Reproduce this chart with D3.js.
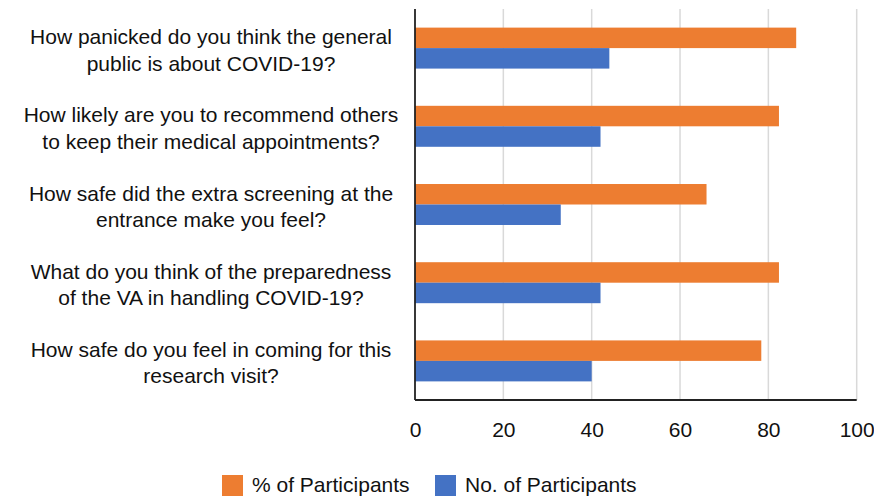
<!DOCTYPE html>
<html>
<head>
<meta charset="utf-8">
<script src="https://cdn.jsdelivr.net/npm/d3@7"></script>
<style>
  html, body { margin: 0; padding: 0; background: #fff; }
  svg { display: block; font-family: "Liberation Sans", Arial, Helvetica, sans-serif; }
</style>
</head>
<body>
<svg id="chart" width="874" height="496"></svg>
<script>
const categories = [
  ["How panicked do you think the general", "public is about COVID-19?"],
  ["How likely are you to recommend others", "to keep their medical appointments?"],
  ["How safe did the extra screening at the", "entrance make you feel?"],
  ["What do you think of the preparedness", "of the VA in handling COVID-19?"],
  ["How safe do you feel in coming for this", "research visit?"]
];
const seriesNames = ["% of Participants", "No. of Participants"];
const pctParticipants = [86.3, 82.4, 66.0, 82.4, 78.4];
const numParticipants = [44, 42, 33, 42, 40];
const xTicks = [0, 20, 40, 60, 80, 100];
const colors = ["#ED7D31", "#4472C4"];

const svg = d3.select("#chart");
const W = 874, H = 496;
const m = { top: 9, right: 17.3, bottom: 96, left: 415 };
const iw = W - m.left - m.right, ih = H - m.top - m.bottom;
const g = svg.append("g").attr("transform", `translate(${m.left},${m.top})`);

const x = d3.scaleLinear().domain([0, 100]).range([0, iw]);
const y = d3.scaleBand().domain(d3.range(categories.length)).range([0, ih])
  .paddingInner(0.476).paddingOuter(0.238);
const ys = d3.scaleBand().domain([0, 1]).range([0, y.bandwidth()]);

// gridlines
g.selectAll("line.grid").data(xTicks.slice(1)).join("line")
  .attr("class", "grid")
  .attr("x1", d => x(d)).attr("x2", d => x(d))
  .attr("y1", 0).attr("y2", ih)
  .attr("stroke", "#d9d9d9").attr("stroke-width", 1.5);

const rows = categories.map((c, i) => ({ i, vals: [pctParticipants[i], numParticipants[i]] }));
const grp = g.selectAll("g.cat").data(rows).join("g")
  .attr("class", "cat")
  .attr("transform", d => `translate(0,${y(d.i)})`);
grp.selectAll("rect").data(d => d.vals.map((v, k) => ({ v, k }))).join("rect")
  .attr("x", 0)
  .attr("y", d => ys(d.k))
  .attr("width", d => x(d.v))
  .attr("height", ys.bandwidth())
  .attr("fill", d => colors[d.k]);

// axes lines
g.append("line").attr("x1", 0).attr("x2", 0).attr("y1", 0).attr("y2", ih)
  .attr("stroke", "#222").attr("stroke-width", 1.8);
g.append("line").attr("x1", 0).attr("x2", iw).attr("y1", ih).attr("y2", ih)
  .attr("stroke", "#222").attr("stroke-width", 1.8);

// bottom axis labels
const xAxis = d3.axisBottom(x).tickValues(xTicks).tickSize(0).tickPadding(22);
const ax = g.append("g").attr("transform", `translate(0,${ih})`).call(xAxis);
ax.select(".domain").remove();
ax.selectAll("text").attr("font-size", 21).attr("fill", "#111")
  .attr("font-family", "'Liberation Sans', Arial, sans-serif");

// category labels
const labelX = -204;
const lab = g.selectAll("text.cl").data(categories).join("text")
  .attr("class", "cl")
  .attr("text-anchor", "middle")
  .attr("font-size", 21)
  .attr("fill", "#111")
  .attr("transform", (d, i) => `translate(${labelX},${y(i) + y.bandwidth() / 2})`);
lab.selectAll("tspan").data(d => d).join("tspan")
  .attr("x", 0)
  .attr("y", (d, j) => -4 + j * 26.5)
  .text(d => d);

// legend
const legendX = [222, 435];
const lg = svg.append("g");
seriesNames.forEach((s, k) => {
  lg.append("rect").attr("x", legendX[k]).attr("y", 475).attr("width", 21).attr("height", 21)
    .attr("fill", colors[k]);
  lg.append("text").attr("x", legendX[k] + 30).attr("y", 492)
    .attr("font-size", 21).attr("fill", "#111").text(s);
});
</script>
</body>
</html>
